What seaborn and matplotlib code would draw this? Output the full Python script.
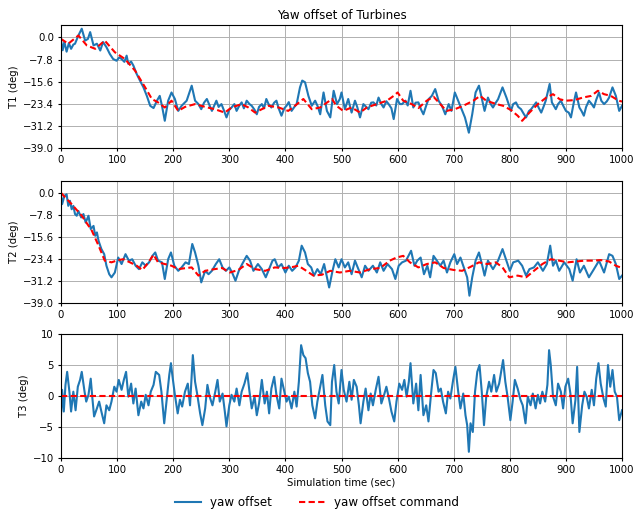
import matplotlib
matplotlib.use("Agg")
import matplotlib.pyplot as plt
import seaborn as sns
from matplotlib.lines import Line2D

# ---------------- data ----------------
t1_time = [0, 3, 6, 10, 14, 18, 22, 25, 31, 37, 43, 48, 52, 58, 64, 70, 75, 81, 87, 93, 99, 104, 108, 113, 117, 120, 125, 129, 135, 141, 147, 153, 159, 165, 171, 176, 180, 185, 191, 197, 203, 209, 215, 224, 233, 239, 245, 250, 255, 260, 265, 269, 277, 281, 286, 290, 295, 300, 304, 309, 313, 318, 322, 326, 331, 336, 340, 345, 349, 353, 358, 362, 366, 370, 375, 380, 384, 388, 393, 398, 402, 406, 411, 416, 420, 426, 430, 435, 441, 447, 453, 458, 462, 468, 474, 480, 486, 492, 497, 500, 506, 512, 518, 524, 528, 533, 539, 544, 548, 553, 557, 562, 566, 571, 575, 580, 584, 589, 593, 599, 604, 608, 614, 618, 623, 628, 632, 637, 642, 646, 651, 655, 661, 667, 673, 679, 685, 691, 696, 702, 708, 714, 720, 727, 733, 739, 745, 751, 755, 761, 766, 770, 775, 779, 787, 794, 798, 802, 806, 811, 815, 820, 825, 829, 834, 838, 843, 847, 852, 856, 860, 864, 871, 875, 882, 886, 891, 895, 900, 905, 909, 914, 918, 924, 928, 932, 936, 941, 946, 950, 954, 959, 963, 968, 973, 977, 983, 989, 995, 1000]
t1_yaw = [-1.0, -4.5, -1.5, -5.0, -2.0, -4.0, -2.5, -2.2, 0.7, 3.1, -1.1, -0.5, 1.9, -2.8, -2.2, -4.6, -1.6, -3.4, -5.8, -7.6, -8.2, -7.0, -7.6, -8.6, -6.4, -9.3, -8.5, -9.9, -12.9, -15.3, -17.6, -20.6, -24.1, -24.9, -22.3, -20.6, -24.1, -29.4, -22.3, -19.4, -21.7, -25.9, -24.1, -22.3, -17.0, -22.3, -23.5, -25.3, -23.0, -21.7, -24.0, -25.9, -22.3, -24.5, -23.5, -25.5, -28.2, -25.5, -24.7, -23.5, -25.9, -24.0, -22.9, -25.0, -22.3, -23.5, -24.1, -25.5, -27.1, -24.5, -23.5, -25.0, -21.7, -23.5, -24.7, -23.0, -22.3, -25.0, -27.6, -25.0, -24.1, -22.8, -25.9, -24.5, -23.5, -17.6, -15.2, -15.8, -20.6, -24.1, -22.3, -24.5, -27.1, -19.4, -25.9, -28.2, -18.8, -23.5, -21.7, -19.4, -25.3, -21.7, -26.5, -22.3, -24.5, -28.2, -23.5, -24.5, -25.3, -23.0, -22.9, -24.0, -21.2, -23.5, -24.7, -22.5, -23.5, -25.0, -28.8, -21.7, -23.5, -23.5, -22.3, -24.0, -18.8, -24.7, -23.0, -22.9, -25.5, -27.1, -24.0, -21.8, -20.6, -18.2, -22.3, -24.1, -27.1, -23.5, -25.9, -19.4, -22.3, -25.3, -28.2, -33.6, -27.1, -19.4, -17.0, -22.3, -25.9, -21.2, -23.5, -24.7, -23.0, -21.8, -17.6, -21.2, -23.5, -25.9, -23.5, -22.9, -24.5, -25.3, -27.0, -28.2, -26.0, -25.3, -24.0, -22.9, -25.0, -26.5, -24.5, -22.3, -16.4, -22.9, -25.3, -23.5, -22.3, -24.0, -25.9, -26.5, -28.2, -23.0, -19.4, -24.7, -26.0, -27.6, -24.5, -22.3, -23.5, -24.7, -22.0, -19.4, -22.3, -23.5, -22.5, -21.2, -17.6, -20.6, -25.9, -24.1]

t1_cmd_time = [0, 13, 31, 46, 61, 78, 96, 114, 132, 150, 162, 173, 185, 197, 209, 221, 239, 257, 274, 292, 304, 322, 334, 346, 358, 370, 388, 405, 417, 432, 447, 462, 483, 491, 503, 518, 533, 545, 563, 581, 593, 600, 610, 625, 637, 652, 664, 676, 687, 702, 717, 735, 747, 758, 776, 788, 802, 814, 822, 835, 850, 865, 877, 889, 900, 915, 930, 945, 957, 968, 980, 994, 1000]
t1_cmd = [-0.5, -2.2, 0.7, -2.8, -4.0, -1.1, -5.2, -7.6, -11.7, -17.6, -21.7, -22.9, -24.7, -22.3, -25.9, -24.5, -23.5, -24.5, -25.3, -26.5, -24.7, -23.5, -24.7, -26.5, -25.3, -24.1, -24.7, -25.9, -24.1, -21.7, -25.3, -24.7, -21.7, -24.1, -25.9, -24.7, -26.5, -24.7, -23.5, -22.3, -20.6, -19.4, -22.3, -23.5, -24.9, -22.3, -20.9, -23.5, -25.9, -25.3, -24.1, -22.3, -20.6, -22.3, -23.5, -24.1, -25.6, -27.6, -29.4, -26.5, -23.5, -21.2, -20.0, -21.8, -22.3, -22.1, -21.2, -20.6, -18.8, -20.0, -20.6, -22.3, -22.6]

t2_time = [0, 2, 6, 10, 13, 16, 19, 22, 25, 28, 31, 36, 40, 44, 49, 53, 58, 61, 64, 67, 72, 77, 81, 86, 90, 96, 102, 108, 115, 121, 127, 133, 139, 145, 151, 157, 163, 168, 173, 180, 185, 191, 196, 202, 209, 215, 222, 228, 234, 239, 245, 250, 257, 263, 269, 276, 282, 288, 294, 300, 305, 311, 317, 323, 331, 337, 343, 351, 358, 365, 371, 377, 381, 387, 393, 400, 406, 412, 418, 424, 429, 435, 440, 446, 451, 457, 463, 469, 474, 478, 484, 489, 495, 500, 506, 512, 518, 524, 530, 536, 542, 548, 556, 563, 569, 575, 582, 590, 596, 602, 608, 615, 624, 630, 635, 641, 647, 653, 658, 664, 670, 676, 682, 688, 694, 701, 706, 712, 718, 724, 728, 733, 739, 745, 751, 755, 761, 770, 779, 787, 793, 800, 806, 815, 822, 829, 835, 843, 850, 859, 866, 872, 877, 882, 888, 897, 906, 912, 919, 925, 932, 941, 950, 959, 968, 977, 983, 989, 995, 1000]
t2_yaw = [-0.5, -4.0, -1.1, -0.5, -4.6, -2.8, -5.8, -4.6, -7.5, -8.1, -6.4, -8.7, -7.5, -10.5, -8.1, -12.8, -11.7, -15.2, -14.0, -17.0, -19.9, -21.7, -25.8, -28.8, -29.9, -28.2, -22.9, -25.2, -21.7, -24.0, -23.5, -25.8, -27.0, -24.6, -25.8, -24.6, -22.3, -21.1, -24.0, -24.6, -30.5, -23.5, -21.1, -25.8, -27.6, -26.4, -24.6, -25.2, -18.1, -21.1, -25.8, -31.7, -27.6, -28.8, -27.6, -25.2, -23.5, -26.4, -27.6, -26.4, -28.2, -31.1, -27.6, -25.2, -22.3, -24.0, -27.6, -25.2, -27.0, -29.9, -27.0, -24.0, -23.5, -26.4, -25.2, -28.2, -25.8, -27.6, -26.4, -24.0, -18.7, -21.1, -25.2, -26.4, -29.3, -27.0, -28.8, -25.2, -29.9, -33.5, -27.6, -23.5, -26.4, -23.5, -26.4, -24.6, -28.8, -24.0, -27.0, -29.9, -25.8, -27.6, -25.8, -28.2, -24.6, -27.6, -25.2, -27.0, -30.5, -25.8, -24.6, -24.0, -20.5, -25.8, -24.0, -22.9, -28.8, -25.8, -29.9, -22.3, -24.0, -25.8, -24.0, -28.2, -24.6, -21.7, -25.2, -22.9, -26.4, -29.9, -36.4, -29.9, -24.0, -21.1, -25.8, -29.3, -24.0, -27.0, -24.0, -19.9, -23.5, -27.6, -24.6, -24.0, -25.8, -29.3, -27.0, -26.4, -24.6, -27.6, -25.2, -18.7, -25.8, -24.0, -27.6, -24.6, -27.0, -31.1, -23.5, -28.2, -25.8, -29.9, -27.0, -24.0, -28.2, -21.7, -22.3, -25.2, -30.5, -29.3]

t2_cmd_time = [0, 19, 37, 55, 67, 78, 90, 102, 111, 123, 135, 145, 156, 165, 173, 185, 197, 209, 224, 233, 245, 257, 274, 287, 301, 316, 331, 346, 364, 381, 399, 414, 423, 435, 450, 465, 480, 497, 515, 533, 551, 569, 586, 598, 610, 622, 637, 652, 667, 682, 700, 715, 730, 745, 760, 775, 787, 799, 814, 829, 843, 858, 873, 888, 903, 918, 933, 948, 962, 977, 989, 1000]
t2_cmd = [0.0, -4.0, -8.1, -13.4, -18.7, -24.0, -24.6, -23.8, -23.5, -24.6, -25.8, -27.3, -24.6, -21.9, -24.6, -25.2, -25.8, -27.0, -26.6, -26.4, -29.3, -27.6, -27.0, -26.6, -28.2, -27.3, -25.2, -27.0, -27.6, -26.4, -26.6, -26.2, -25.8, -27.3, -29.3, -29.0, -27.6, -28.2, -27.6, -28.2, -27.0, -26.6, -24.0, -22.9, -22.3, -24.6, -26.4, -25.2, -24.6, -26.6, -27.3, -27.6, -26.2, -24.6, -25.2, -24.6, -26.4, -29.9, -29.3, -29.9, -27.6, -25.2, -23.5, -24.0, -24.6, -24.3, -24.0, -24.0, -23.8, -24.3, -25.8, -26.6]

t3_time = [0, 2, 5, 8, 11, 15, 18, 22, 26, 30, 34, 37, 42, 45, 49, 53, 56, 59, 64, 68, 72, 77, 81, 86, 90, 95, 99, 103, 108, 112, 116, 120, 125, 129, 133, 138, 143, 147, 151, 156, 160, 165, 169, 175, 179, 184, 188, 193, 196, 198, 203, 208, 212, 216, 221, 226, 230, 235, 239, 243, 248, 252, 257, 261, 265, 270, 275, 279, 283, 288, 292, 295, 300, 304, 309, 313, 318, 322, 327, 332, 336, 340, 345, 349, 353, 358, 363, 367, 371, 375, 380, 384, 389, 393, 398, 402, 406, 411, 416, 420, 424, 428, 432, 436, 440, 444, 448, 453, 457, 462, 466, 471, 475, 480, 483, 487, 491, 495, 500, 504, 509, 514, 518, 522, 527, 531, 534, 539, 543, 548, 552, 556, 561, 566, 571, 576, 580, 585, 589, 594, 598, 603, 608, 612, 616, 620, 623, 628, 633, 637, 641, 646, 651, 655, 660, 664, 668, 673, 677, 681, 686, 690, 694, 699, 703, 708, 712, 717, 721, 724, 727, 730, 734, 738, 742, 746, 750, 754, 758, 763, 767, 772, 776, 781, 785, 788, 792, 796, 801, 805, 809, 814, 819, 823, 828, 832, 837, 841, 846, 850, 854, 858, 863, 867, 870, 873, 877, 882, 886, 891, 895, 899, 904, 908, 912, 917, 920, 924, 929, 933, 937, 941, 946, 950, 954, 958, 962, 967, 971, 975, 979, 983, 987, 991, 995, 1000]
t3_yaw = [-3.1, 1.0, -2.5, 1.8, 3.9, 0.7, -2.5, 0.7, -2.3, 1.5, 2.6, 3.9, 0.7, -0.9, 0.2, 2.8, -0.4, -3.3, -2.0, -0.9, -2.5, -4.4, -1.5, -2.3, -0.9, 1.5, 0.7, 2.6, 1.0, 2.6, 3.9, -0.1, 2.0, -1.2, 1.2, -3.1, -0.9, -2.0, 0.2, -1.5, 0.7, 1.8, 3.9, 3.4, 0.7, -4.4, -0.9, 3.4, 5.3, 3.7, 0.2, -2.8, -0.6, -1.7, 0.7, 2.0, -1.5, 6.6, 2.3, 0.2, -2.8, -4.7, -2.0, 1.8, -0.1, -1.5, 0.7, 2.6, -0.9, 0.4, -2.5, -4.9, -1.5, 0.2, -0.9, 1.2, -1.5, 0.7, 2.0, 3.7, 0.7, -2.0, -0.1, -3.1, -1.2, 2.6, -1.2, 0.7, -2.8, 1.2, 3.1, 0.2, -2.0, 2.8, 0.7, -0.9, -0.1, -2.0, 0.7, -1.7, 2.3, 8.2, 6.6, 6.1, 3.7, 2.3, -1.5, -3.6, -0.9, 1.5, 3.4, -1.5, -4.1, -4.7, 2.3, 5.0, 0.7, -1.2, 4.2, 1.0, -0.9, 2.3, -0.6, 2.6, 1.5, -1.5, -4.4, -0.9, 1.2, -2.3, 0.4, -1.5, 1.0, 3.1, -1.2, 0.2, 1.5, -0.6, -2.5, -4.1, -0.9, 2.0, 1.0, 2.6, -0.1, 2.3, 5.3, -1.2, 2.0, -2.3, 3.4, -3.1, -1.5, -4.1, 0.7, 4.2, 3.7, 0.7, 1.2, -0.9, -2.8, 0.7, -0.4, 2.6, 4.7, 0.7, -2.0, 0.4, -3.1, -4.7, -9.0, -4.4, -5.8, 0.7, 3.9, 5.0, 0.7, -4.7, -0.1, 2.3, 0.7, 3.4, 0.7, 2.0, 4.2, 5.8, 2.3, -0.1, -3.9, -0.9, 2.6, 1.2, -0.6, -1.5, -4.4, -0.1, -1.5, 0.4, -2.0, 0.2, -1.2, 0.7, -0.9, 1.8, 7.4, 5.0, -0.1, -1.5, 2.0, 0.7, -2.0, 1.5, 2.8, 0.4, -4.4, -0.6, 4.7, -5.8, -1.5, 0.7, -0.1, -2.0, 1.0, -1.5, 2.8, 5.3, 2.0, -0.4, -1.7, 5.0, 1.5, 4.2, 0.7, -0.1, -3.9, -2.3]

t3_cmd_time = [0, 1000]
t3_cmd = [0.0, 0.0]

yaw_ticks = [0.0, -7.8, -15.6, -23.4, -31.2, -39.0]
yaw_tick_labels = ["0.0", "\u22127.8", "\u221215.6", "\u221223.4", "\u221231.2", "\u221239.0"]
t3_ticks = [10, 5, 0, -5, -10]
x_ticks = list(range(0, 1001, 100))

# ---------------- figure ----------------
FS = 7.3
plt.rcParams.update({
    "xtick.labelsize": FS, "ytick.labelsize": FS,
    "xtick.major.size": 2.5, "ytick.major.size": 2.5,
    "xtick.major.pad": 2.5, "ytick.major.pad": 2.5,
    "axes.linewidth": 0.8,
})

fig = plt.figure(figsize=(6.34, 5.17), dpi=100)
ax1 = fig.add_axes([0.0962, 0.7137, 0.8849, 0.2379])
ax2 = fig.add_axes([0.0962, 0.4139, 0.8849, 0.2360])
ax3 = fig.add_axes([0.0962, 0.1141, 0.8849, 0.2398])

blue = "#1f77b4"
LW = 1.5
series = [
    (ax1, t1_time, t1_yaw, t1_cmd_time, t1_cmd, "T1 (deg)"),
    (ax2, t2_time, t2_yaw, t2_cmd_time, t2_cmd, "T2 (deg)"),
    (ax3, t3_time, t3_yaw, t3_cmd_time, t3_cmd, "T3 (deg)"),
]
for ax, tt, yy, tc, yc, lab in series:
    sns.lineplot(x=tt, y=yy, ax=ax, color=blue, linewidth=LW)
    sns.lineplot(x=tc, y=yc, ax=ax, color="red", linewidth=LW, linestyle=(0, (3, 1.6)))
    ax.set_xlim(0, 1000)
    ax.set_xticks(x_ticks)
    ax.set_ylabel(lab, fontsize=FS, labelpad=3)
    ax.set_xlabel("")
    ax.grid(True, color="#b0b0b0", linewidth=0.7)
    ax.set_axisbelow(True)

ax1.set_ylim(-39.0, 4.4)
ax2.set_ylim(-39.0, 4.2)
for ax in (ax1, ax2):
    ax.set_yticks(yaw_ticks)
    ax.set_yticklabels(yaw_tick_labels)
ax3.set_ylim(-10, 10)
ax3.set_yticks(t3_ticks)
ax3.set_xlabel("Simulation time (sec)", fontsize=FS, labelpad=2)

ax1.set_title("Yaw offset of Turbines", fontsize=8.6, pad=4)

handles = [Line2D([], [], color=blue, linewidth=LW),
           Line2D([], [], color="red", linewidth=LW, linestyle=(0, (3, 1.6)))]
fig.legend(handles, ["yaw offset", "yaw offset command"], loc="lower center",
           ncol=2, frameon=False, bbox_to_anchor=(0.5, -0.005), fontsize=8.6,
           columnspacing=2.2, handlelength=2.2)

fig.savefig("out.png", dpi=100)
